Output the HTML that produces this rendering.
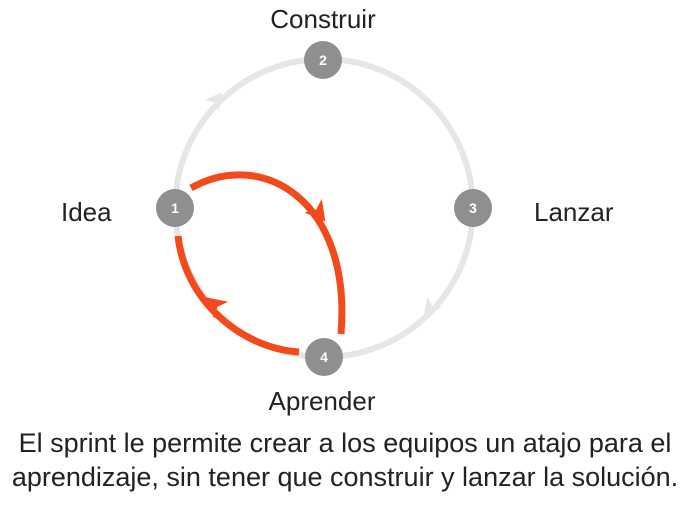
<!DOCTYPE html>
<html><head><meta charset="utf-8"><style>
html,body{margin:0;padding:0;background:#fff;}
body{width:690px;height:517px;overflow:hidden;}
</style></head><body>
<svg width="690" height="517" viewBox="0 0 690 517" xmlns="http://www.w3.org/2000/svg" font-family="Liberation Sans, sans-serif">
<circle cx="324" cy="208" r="149" fill="none" stroke="#e6e6e6" stroke-width="6"/>
<polygon points="10,0 -7,-9 -3,0 -7,9" fill="#e6e6e6" transform="translate(216,100) rotate(-52)"/>
<polygon points="10,0 -7,-9 -3,0 -7,9" fill="#e6e6e6" transform="translate(430,308) rotate(128)"/>
<path d="M191,188 C262,148 352,200 341,334" fill="none" stroke="#f24a1a" stroke-width="7"/>
<path d="M178,236 C185,300 240,348 299,352" fill="none" stroke="#f24a1a" stroke-width="7"/>
<polygon points="12,0 -8,-11 -3,0 -8,11" fill="#f24a1a" transform="translate(318,212) rotate(52)"/>
<polygon points="12,0 -8,-11 -3,0 -8,11" fill="#f24a1a" transform="translate(215,305) rotate(-140)"/>
<g fill="#8f8f8f"><circle cx="323" cy="60" r="19"/><circle cx="175" cy="208" r="19"/><circle cx="473" cy="208" r="19"/><circle cx="324" cy="357" r="19"/></g>
<g fill="#fff" font-size="14" font-weight="bold" text-anchor="middle">
<text x="323" y="65">2</text><text x="175" y="213">1</text><text x="473" y="213">3</text><text x="324" y="362">4</text></g>
<g fill="#222" font-size="26">
<text x="323" y="28" text-anchor="middle">Construir</text>
<text x="61" y="221">Idea</text>
<text x="534" y="221">Lanzar</text>
<text x="322" y="410" text-anchor="middle">Aprender</text>
</g>
<g fill="#222" font-size="27" text-anchor="middle">
<text x="345" y="452">El sprint le permite crear a los equipos un atajo para el</text>
<text x="345" y="486">aprendizaje, sin tener que construir y lanzar la solución.</text>
</g>
</svg>
</body></html>
